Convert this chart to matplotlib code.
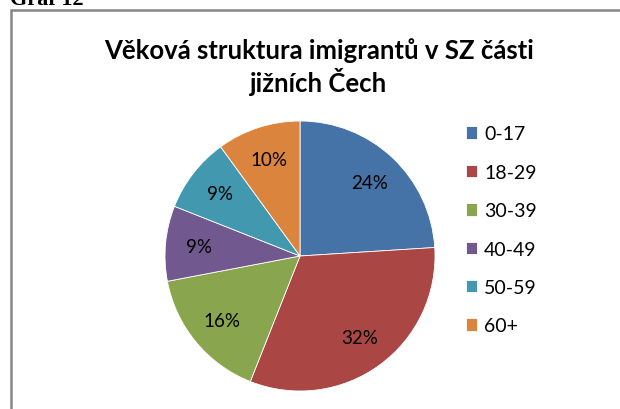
import matplotlib.pyplot as plt
from matplotlib.patches import Rectangle

# data
labels = ['0-17', '18-29', '30-39', '40-49', '50-59', '60+']
shares = [24, 32, 16, 9, 9, 10]
colors = ['#4572A7', '#AA4643', '#89A54E', '#71588F', '#4198AF', '#DB843D']
title = 'Věková struktura imigrantů v SZ části\njižních Čech'

W, H = 620, 410
fig = plt.figure(figsize=(W / 100, H / 100), dpi=100)
fig.patch.set_facecolor('white')

# chart frame (only left and top edges are visible in the crop)
fig.add_artist(Rectangle((11 / W, -0.1), 1.2, (H - 11) / H + 0.1,
                         transform=fig.transFigure, fill=False,
                         edgecolor='#878787', linewidth=1.8))

fig.text(10 / W, 1 - 5 / H, 'Graf 12', family='Liberation Serif',
         weight='bold', fontsize=16, ha='left', va='baseline')

fig.text(319 / W, 1 - 92 / H, title, family='Lato', weight='bold',
         fontsize=18.5, ha='center', va='baseline', linespacing=1.2)

# pie: centre (300, 257) px, radius 135 px
ax = fig.add_axes([165 / W, 18 / H, 270 / W, 270 / H])
wedges, _, autotexts = ax.pie(
    shares, colors=colors, startangle=90, counterclock=False,
    autopct='%d%%', pctdistance=0.75, radius=1.0,
    wedgeprops=dict(edgecolor='white', linewidth=0.6),
    textprops=dict(family='Lato', fontsize=13.5, color='black'))
ax.set_xlim(-1, 1)
ax.set_ylim(-1, 1)

fig.legend(wedges, labels, loc='upper left',
           bbox_to_anchor=(448 / W, 1 - 109 / H),
           frameon=False, prop=dict(family='Lato', size=14),
           handlelength=0.6, handleheight=0.6, handletextpad=0.35,
           labelspacing=1.1)

fig.savefig('out.png', dpi=100)
